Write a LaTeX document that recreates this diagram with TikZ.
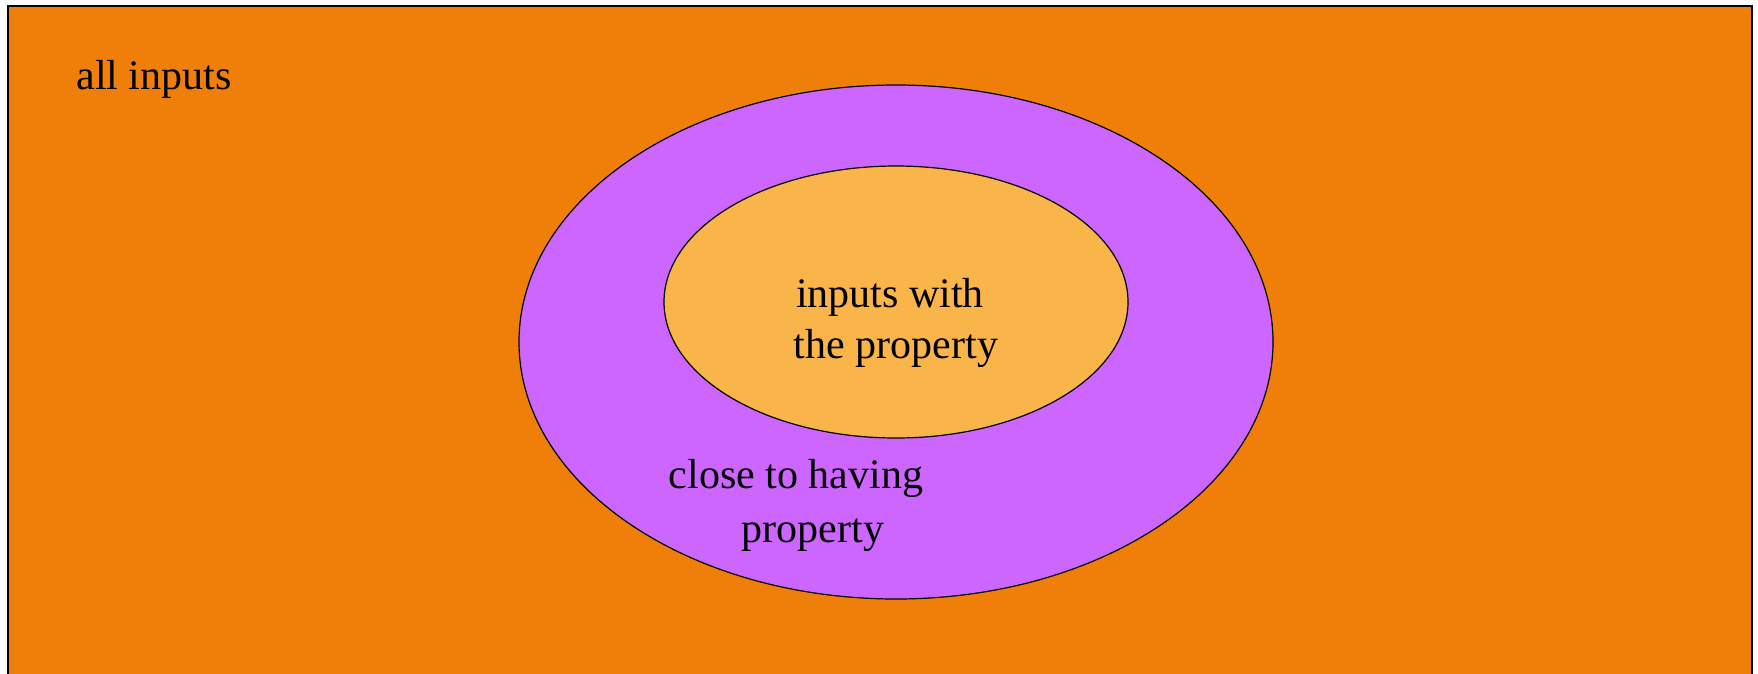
\documentclass[tikz,border=0pt]{standalone}
\usepackage{fontspec}
\setmainfont{Liberation Serif}
\definecolor{outerfill}{RGB}{240,127,10}
\definecolor{closefill}{RGB}{204,102,255}
\definecolor{propfill}{RGB}{250,181,74}
\tikzset{
  lbl/.style={anchor=base, inner sep=0pt, font=\fontsize{42}{40}\selectfont},
  region/.style={draw=black, line width=1.2pt}
}
\begin{document}
\begin{tikzpicture}[x=1pt, y=-1pt]
  \useasboundingbox (0,0) rectangle (1758,673);
  \clip (0,0) rectangle (1758,673);
  % universe of inputs
  \fill[white] (0,0) rectangle (1758,673);
  \draw[fill=outerfill, draw=black, line width=2pt] (8,6) rectangle (1752,690);
  % inputs close to having the property
  \draw[region, fill=closefill] (896,342) ellipse [x radius=377, y radius=257];
  % inputs with the property
  \draw[region, fill=propfill] (896,302) ellipse [x radius=232, y radius=136];
  % labels
  \node[lbl] (all) at (154,89) {all inputs};
  \node[lbl] (with1) at (890,307) {inputs with};
  \node[lbl] (with2) at (896,358) {the property};
  \node[lbl] (close1) at (796,488) {close to having};
  \node[lbl] (close2) at (813,542) {property};
\end{tikzpicture}
\end{document}
